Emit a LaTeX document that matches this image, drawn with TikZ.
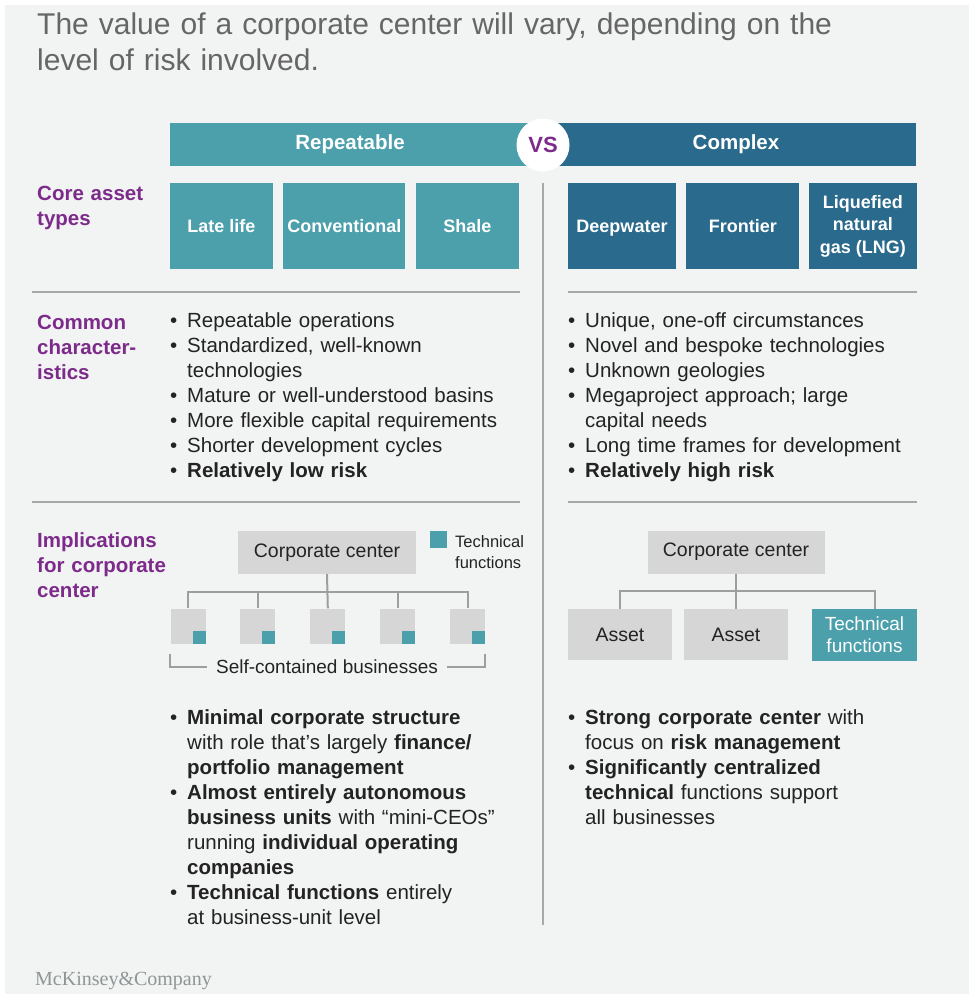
\documentclass[tikz,border=0pt]{standalone}
\usepackage{fontspec}
\setmainfont{Liberation Sans}
\newfontfamily\mckfont{Liberation Serif}
\usepackage{tikz}
\usetikzlibrary{positioning}

\definecolor{teal1}{HTML}{4BA0AB}
\definecolor{navy1}{HTML}{2A6A8C}
\definecolor{plum}{HTML}{7D2B8B}
\definecolor{boxgray}{HTML}{D6D6D6}
\definecolor{rulegray}{HTML}{A8A8A8}
\definecolor{linkgray}{HTML}{9E9E9E}
\definecolor{bggray}{HTML}{F2F3F3}
\definecolor{txt}{HTML}{232323}
\definecolor{titlegray}{HTML}{666666}
\definecolor{mckgray}{HTML}{8E9696}

\newcommand{\bulitem}{\hangindent=17pt\hangafter=1\noindent\makebox[17pt][l]{\textbullet}}

\begin{document}
\begin{tikzpicture}[x=1pt,y=-1pt,
    bar/.style={rectangle, inner sep=0pt, minimum height=43pt, text=white, font=\bfseries\fontsize{20.5}{24}\selectfont},
    asset/.style={rectangle, inner sep=0pt, minimum height=86pt, text=white, align=center, font=\bfseries\fontsize{18}{22.5}\selectfont},
    oneline/.style={text height=13pt, text depth=0pt},
    sidelabel/.style={anchor=base west, inner sep=0pt, text width=135pt, align=left, text=plum, font=\bfseries\fontsize{20.5}{25}\selectfont},
    bullets/.style={anchor=base west, inner sep=0pt, text width=360pt, align=left, text=txt, font=\fontsize{20.5}{25}\selectfont},
    graybox/.style={rectangle, fill=boxgray, inner sep=0pt, text=txt, font=\fontsize{19.5}{22}\selectfont},
    bizunit/.style={rectangle, fill=boxgray, inner sep=0pt, minimum size=35pt},
    techsq/.style={rectangle, fill=teal1, inner sep=0pt, minimum size=13pt},
    rule/.style={draw=rulegray, line width=1.3pt},
    link/.style={draw=linkgray, line width=2pt}]
    % Background
    \useasboundingbox (0,0) rectangle (969,994);
    \fill[bggray] (5,5) rectangle (969,994);
    % Title
    \node[anchor=base west, inner sep=0pt, text width=900pt, align=left, text=titlegray, font=\fontsize{30}{36}\selectfont] (title) at (37,34) {The value of a corporate center will vary, depending on the\\level of risk involved.};
    % Header
    \node[bar, fill=teal1, minimum width=360pt] (rep) at (350,144.5) {Repeatable};
    \node[bar, fill=navy1, minimum width=360pt] (cpx) at (736,144.5) {Complex};
    \node[circle, fill=white, inner sep=0pt, minimum size=53pt, text=plum, font=\bfseries\fontsize{22}{26}\selectfont] (vs) at (543,145) {VS};
    % Core asset types
    \node[asset, oneline, fill=teal1, minimum width=103pt] (late) at (221.5,226) {Late life};
    \node[asset, oneline, fill=teal1, minimum width=122pt, right=10pt of late] (conv) {Conventional};
    \node[asset, oneline, fill=teal1, minimum width=103pt, right=10pt of conv] (shale) {Shale};
    \node[asset, oneline, fill=navy1, minimum width=108pt] (deep) at (622,226) {Deepwater};
    \node[asset, oneline, fill=navy1, minimum width=113pt, right=10pt of deep] (front) {Frontier};
    \node[asset, fill=navy1, minimum width=108pt, right=9pt of front] (lng) {Liquefied\\natural\\gas (LNG)};
    % Rules
    \draw[rule] (543,183) -- (543,925);
    \draw[rule] (32,292) -- (520,292);
    \draw[rule] (568,292) -- (917,292);
    \draw[rule] (32,502) -- (520,502);
    \draw[rule] (568,502) -- (917,502);
    % Row labels
    \node[sidelabel] (lblcore) at (37,200) {Core asset\\types};
    \node[sidelabel] (lblchar) at (37,329) {Common\\character-\\istics};
    \node[sidelabel] (lblimpl) at (37,547) {Implications\\for corporate\\center};
    % Characteristics
    \node[bullets] (charL) at (170,327) {\bulitem Repeatable operations\par
        \bulitem Standardized, well-known\newline technologies\par
        \bulitem Mature or well-understood basins\par
        \bulitem More flexible capital requirements\par
        \bulitem Shorter development cycles\par
        \bulitem \textbf{Relatively low risk}\par};
    \node[bullets] (charR) at (568,327) {\bulitem Unique, one-off circumstances\par
        \bulitem Novel and bespoke technologies\par
        \bulitem Unknown geologies\par
        \bulitem Megaproject approach; large\newline capital needs\par
        \bulitem Long time frames for development\par
        \bulitem \textbf{Relatively high risk}\par};
    % Left org chart
    \node[graybox, minimum width=178pt, minimum height=43pt] (ccL) at (327,552.5) {Corporate center};
    \node[techsq, minimum size=17pt] (legsq) at (438,539.5) {};
    \node[anchor=base west, inner sep=0pt, text width=90pt, align=left, text=txt, font=\fontsize{16.5}{21}\selectfont] (legtx) at (455,547) {Technical\\functions};
    \node[bizunit] (b1) at (188,626) {};
    \node[bizunit, right=34.5pt of b1] (b2) {};
    \node[bizunit, right=34.5pt of b2] (b3) {};
    \node[bizunit, right=34.5pt of b3] (b4) {};
    \node[bizunit, right=34.5pt of b4] (b5) {};
    \node[techsq, anchor=south east] (t1) at (b1.south east) {};
    \node[techsq, anchor=south east] (t2) at (b2.south east) {};
    \node[techsq, anchor=south east] (t3) at (b3.south east) {};
    \node[techsq, anchor=south east] (t4) at (b4.south east) {};
    \node[techsq, anchor=south east] (t5) at (b5.south east) {};
    \coordinate (busL) at (327,592);
    \draw[link] (ccL.south) -- (b3.north);
    \draw[link] (b1.north) |- (busL) -| (b5.north);
    \draw[link] (b2.north) -- (b2.north |- busL);
    \draw[link] (b4.north) -- (b4.north |- busL);
    \node[inner sep=0pt, inner xsep=9pt, text=txt, font=\fontsize{19}{22}\selectfont] (scb) at (327,667) {Self-contained businesses};
    \draw[link] ([yshift=-10pt]b1.south west) |- (scb.west);
    \draw[link] ([yshift=-10pt]b5.south east) |- (scb.east);
    % Right org chart
    \node[graybox, minimum width=177pt, minimum height=43pt] (ccR) at (736,552) {Corporate center};
    \node[graybox, minimum width=104pt, minimum height=51pt] (a1) at (620,634.5) {Asset};
    \node[graybox, minimum width=104pt, minimum height=51pt] (a2) at (736,634.5) {Asset};
    \node[graybox, fill=teal1, text=white, align=center, minimum width=105pt, minimum height=52pt, font=\fontsize{19}{22}\selectfont] (tech) at (864.5,635) {Technical\\functions};
    \coordinate (busR) at (736,591);
    \draw[link] (ccR.south) -- (a2.north);
    \draw[link] (a1.north) |- (busR) -| ([xshift=10.5pt]tech.north);
    % Implications
    \node[bullets] (implL) at (170,724) {\bulitem \textbf{Minimal corporate structure}\newline with role that’s largely \textbf{finance/}\newline \textbf{portfolio management}\par
        \bulitem \textbf{Almost entirely autonomous}\newline \textbf{business units} with “mini-CEOs”\newline running \textbf{individual operating}\newline \textbf{companies}\par
        \bulitem \textbf{Technical functions} entirely\newline at business-unit level\par};
    \node[bullets] (implR) at (568,724) {\bulitem \textbf{Strong corporate center} with\newline focus on \textbf{risk management}\par
        \bulitem \textbf{Significantly centralized}\newline \textbf{technical} functions support\newline all businesses\par};
    % Footer
    \node[anchor=base west, inner sep=0pt, text=mckgray, font=\mckfont\fontsize{20}{24}\selectfont] (mck) at (35,985) {McKinsey\&Company};
\end{tikzpicture}
\end{document}
